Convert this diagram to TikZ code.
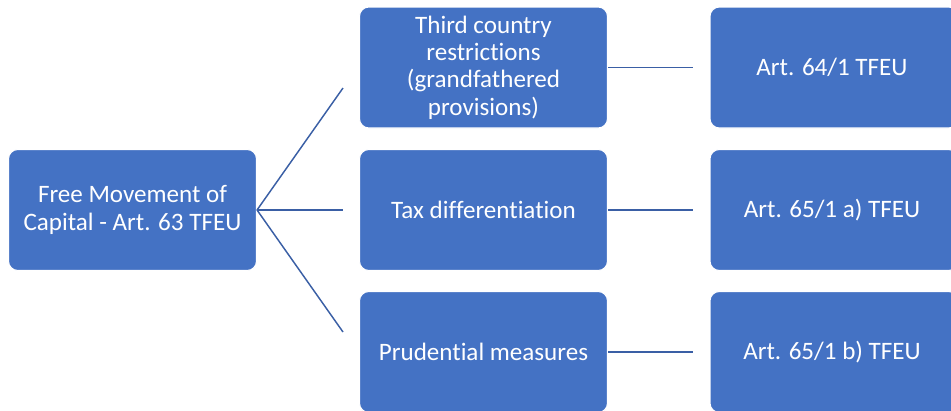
\documentclass[tikz,border=0pt]{standalone}
\usepackage{fontspec}
\setmainfont[Ligatures=NoCommon]{Carlito}
\definecolor{boxblue}{HTML}{4472C4}
\definecolor{lineblue}{HTML}{3A5FA5}
\begin{document}
\begin{tikzpicture}[x=0.75pt,y=-0.75pt,
  box/.style={draw=white, line width=0.8pt, fill=boxblue, rounded corners=7pt, text=white,
    minimum width=248*0.75pt, minimum height=121*0.75pt, inner sep=0pt, align=center,
    font=\fontsize{18.8}{20.5}\selectfont},
  conn/.style={draw=lineblue, line width=1.1pt}]
\useasboundingbox (0,0) rectangle (951,411);
\clip (0,0) rectangle (951,411);
\node[box] (root) at (132.5,210) {Free Movement of\\Capital - Art. 63 TFEU};
\node[box] (m1) at (483.5,67.5) {Third country\\restrictions\\(grandfathered\\provisions)};
\node[box] (m2) at (483.5,210) {Tax differentiation};
\node[box] (m3) at (483.5,352) {Prudential measures};
\node[box] (r1) at (834,67.5) {\hspace*{-3pt}Art. 64/1 TFEU};
\node[box] (r2) at (834,210) {\hspace*{-3pt}Art. 65/1 a) TFEU};
\node[box] (r3) at (834,352) {\hspace*{-3pt}Art. 65/1 b) TFEU};
\coordinate (f1) at (343,88);
\coordinate (f2) at (343,210);
\coordinate (f3) at (343,332);
\draw[conn] (root.east) -- (f1);
\draw[conn] (root.east) -- (f2);
\draw[conn] (root.east) -- (f3);
\draw[conn] (m1.east) -- ++(85,0);
\draw[conn] (m2.east) -- ++(85,0);
\draw[conn] (m3.east) -- ++(85,0);
\end{tikzpicture}
\end{document}
